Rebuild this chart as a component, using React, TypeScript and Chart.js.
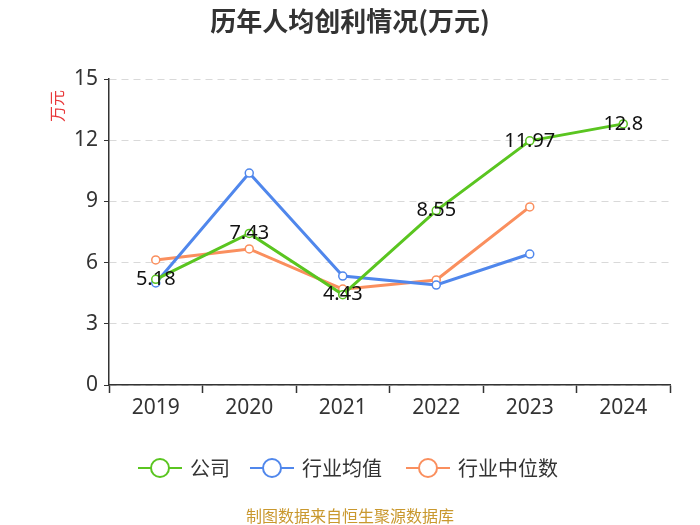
import { useEffect, useRef } from 'react'
import { Chart, registerables } from 'chart.js'

Chart.register(...registerables)

const years = ['2019', '2020', '2021', '2022', '2023', '2024']
const companyValues = [5.18, 7.43, 4.43, 8.55, 11.97, 12.8]
const industryAvg = [5.0, 10.39, 5.34, 4.9, 6.42, null]
const industryMedian = [6.13, 6.67, 4.7, 5.15, 8.73, null]
const seriesNames = ['公司', '行业均值', '行业中位数']
const seriesColors = ['#5ac520', '#5087ec', '#fa8f5e']

const FONT = '"Noto Sans", "Noto Sans CJK SC", sans-serif'
const CJK = '"Noto Sans CJK SC", "Noto Sans", sans-serif'

// title, unit, value labels, legend and source line
const decorPlugin = {
  id: 'decor',
  afterDatasetsDraw(chart: Chart) {
    const ctx = chart.ctx
    ctx.save()

    // value labels on the company line
    const meta = chart.getDatasetMeta(0)
    ctx.font = `20px ${FONT}`
    ctx.fillStyle = '#111'
    ctx.textAlign = 'center'
    ctx.textBaseline = 'middle'
    meta.data.forEach((pt: any, i: number) => {
      ctx.fillText(String(companyValues[i]), pt.x, pt.y)
    })
    ctx.restore()
  },
  afterDraw(chart: Chart) {
    const ctx = chart.ctx
    ctx.save()

    ctx.fillStyle = '#333'
    ctx.font = `bold 26px ${CJK}`
    ctx.textAlign = 'center'
    ctx.textBaseline = 'middle'
    ctx.fillText('历年人均创利情况(万元)', 350, 21)

    // y unit
    ctx.save()
    ctx.translate(57, 106)
    ctx.rotate(-Math.PI / 2)
    ctx.fillStyle = '#e8383a'
    ctx.font = `16px ${CJK}`
    ctx.fillText('万元', 0, 0)
    ctx.restore()

    // legend
    const items = [
      { x: 138, tx: 190 },
      { x: 250, tx: 302 },
      { x: 406, tx: 458 },
    ]
    const ly = 468
    ctx.font = `20px ${CJK}`
    ctx.textAlign = 'left'
    items.forEach((it, i) => {
      ctx.strokeStyle = seriesColors[i]
      ctx.lineWidth = 2
      ctx.beginPath()
      ctx.moveTo(it.x, ly)
      ctx.lineTo(it.x + 44, ly)
      ctx.stroke()
      ctx.beginPath()
      ctx.arc(it.x + 22, ly, 9, 0, Math.PI * 2)
      ctx.fillStyle = '#fff'
      ctx.fill()
      ctx.stroke()
      ctx.fillStyle = '#333'
      ctx.fillText(seriesNames[i], it.tx, ly)
    })

    ctx.textAlign = 'center'
    ctx.fillStyle = '#c9982e'
    ctx.font = `16px ${CJK}`
    ctx.fillText('制图数据来自恒生聚源数据库', 350, 516)

    ctx.restore()
  },
}

export default function App() {
  const canvasRef = useRef<HTMLCanvasElement>(null)
  const chartRef = useRef<Chart | null>(null)

  useEffect(() => {
    document.body.style.margin = '0'
    if (!canvasRef.current) return
    if (chartRef.current) chartRef.current.destroy()

    const makeSet = (i: number, data: (number | null)[]) => ({
      label: seriesNames[i],
      data,
      borderColor: seriesColors[i],
      backgroundColor: '#fff',
      borderWidth: 3,
      pointRadius: 4,
      pointHoverRadius: 4,
      pointBorderWidth: 1.5,
      pointBackgroundColor: '#fff',
      pointBorderColor: seriesColors[i],
      tension: 0,
    })

    chartRef.current = new Chart(canvasRef.current, {
      type: 'line',
      data: {
        labels: years,
        datasets: [
          makeSet(0, companyValues),
          makeSet(1, industryAvg),
          makeSet(2, industryMedian),
        ],
      },
      options: {
        responsive: false,
        animation: false,
        devicePixelRatio: 1,
        layout: { padding: { left: 49, right: 30, top: 79, bottom: 100 } },
        plugins: {
          legend: { display: false },
          title: { display: false },
          tooltip: { enabled: false },
        },
        scales: {
          x: {
            offset: true,
            grid: {
              display: true,
              offset: true,
              drawOnChartArea: false,
              tickLength: 8,
              tickColor: '#333',
              tickWidth: 1.5,
            },
            border: { color: '#333', width: 1.5 },
            ticks: { color: '#333', font: { size: 21, family: FONT }, padding: 2 },
            afterFit: (s: any) => { s.height = 40 },
          },
          y: {
            min: 0,
            max: 15,
            ticks: {
              stepSize: 3,
              color: '#333',
              font: { size: 21, family: FONT },
              padding: 6,
            },
            grid: {
              color: '#d9d9d9',
              lineWidth: 1,
              tickLength: 5,
              tickColor: '#333',
              drawTicks: true,
            },
            border: { color: '#333', width: 1.5, dash: [7, 5] },
            afterFit: (s: any) => { s.width = 60 },
          },
        },
      },
      plugins: [decorPlugin],
    })

    return () => {
      if (chartRef.current) {
        chartRef.current.destroy()
        chartRef.current = null
      }
    }
  }, [])

  return (
    <div style={{ width: 700, height: 525 }}>
      <canvas ref={canvasRef} width={700} height={525}></canvas>
    </div>
  )
}
